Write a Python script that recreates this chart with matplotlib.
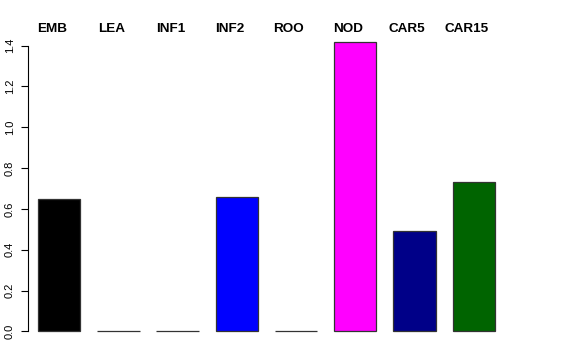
import matplotlib
matplotlib.use("Agg")
import matplotlib.pyplot as plt
import numpy as np

plt.rcParams['font.family'] = ['Liberation Sans', 'DejaVu Sans']

samples = ["EMB", "LEA", "INF1", "INF2", "ROO", "NOD", "CAR5", "CAR15"]
values = [0.65, 0.0, 0.0, 0.66, 0.0, 1.42, 0.49, 0.73]
colors = ["black", "white", "white", "blue", "white", "magenta", "#000088", "#006400"]

fig = plt.figure(figsize=(5.76, 3.6), dpi=100)
ax = fig.add_axes([28 / 576, 17 / 360, 493 / 576, 313 / 360])

# R barplot style: width 1, space 0.4
x = 0.4 + np.arange(len(samples)) * 1.4 + 0.5
ax.bar(x, values, width=1.0, color=colors, edgecolor="#333333", linewidth=0.9)

ax.set_xlim(0.163, 0.163 + 493 / 42.3)
ax.set_ylim(-0.0568, 1.4768)

for xi, name in zip(x, samples):
    ax.text(xi - 0.17, 1.004, name, transform=ax.get_xaxis_transform(),
            ha="center", va="center", fontsize=9.7, fontweight="bold")

for s in ["top", "right", "bottom"]:
    ax.spines[s].set_visible(False)
ax.spines["left"].set_bounds(0, 1.4)
ax.spines["left"].set_linewidth(0.8)
ax.set_xticks([])
yt = np.arange(0, 1.41, 0.2)
ax.set_yticks(yt)
ax.set_yticklabels(["%.1f" % v for v in yt], rotation=90, va="center", fontsize=8)
ax.tick_params(axis="y", length=5, width=0.8, pad=4.5)

fig.savefig("out.png", dpi=100)
